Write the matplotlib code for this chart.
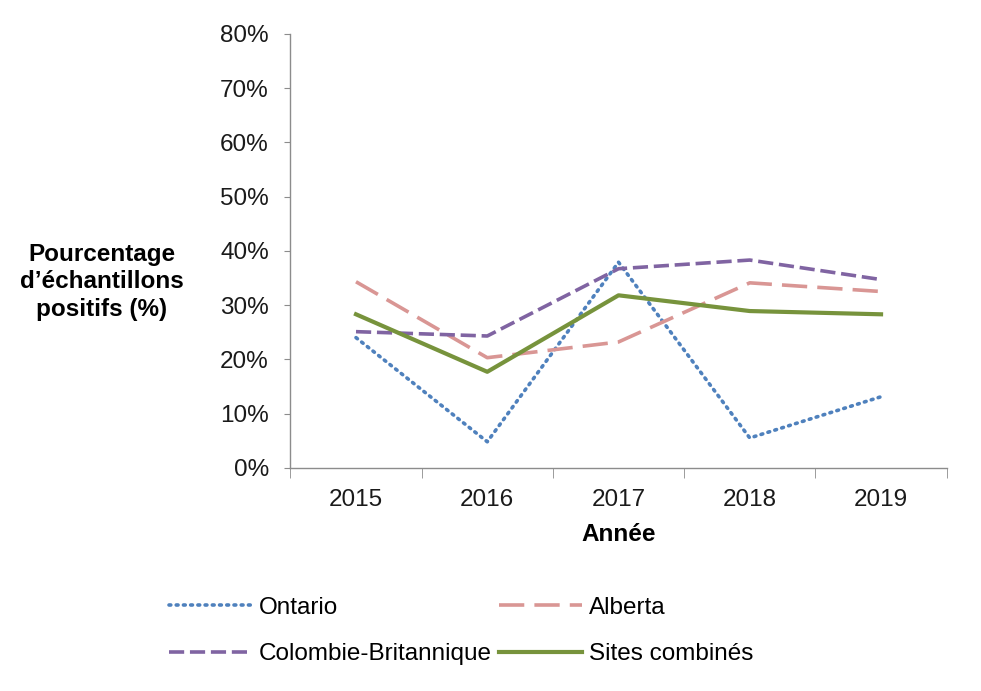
import matplotlib.pyplot as plt
from matplotlib.ticker import FuncFormatter

plt.rcParams['font.family'] = ['Liberation Sans', 'DejaVu Sans']

years = ['2015', '2016', '2017', '2018', '2019']
ontario = [24.0, 4.8, 37.9, 5.5, 13.1]
alberta = [34.3, 20.3, 23.2, 34.1, 32.5]
colombie = [25.1, 24.3, 36.7, 38.3, 34.7]
combines = [28.3, 17.7, 31.8, 28.9, 28.3]

fs = 17.5
fig = plt.figure(figsize=(9.81, 6.91), dpi=100)
ax = fig.add_axes([0.296, 0.323, 0.669, 0.628])

x = range(len(years))
l_on, = ax.plot(x, ontario, color='#4F81BD', linewidth=2.6, linestyle=(0, (0.5, 1.5)),
                dash_capstyle='round', label='Ontario')
l_al, = ax.plot(x, alberta, color='#D99694', linewidth=2.6, linestyle=(0, (7, 2.8)),
                label='Alberta')
l_cb, = ax.plot(x, colombie, color='#8064A2', linewidth=2.6, linestyle=(0, (4.2, 1.6)),
                label='Colombie-Britannique')
l_sc, = ax.plot(x, combines, color='#77933C', linewidth=3.0, label='Sites combinés')

ax.set_ylim(0, 80)
ax.set_yticks(range(0, 81, 10))
ax.yaxis.set_major_formatter(FuncFormatter(lambda v, p: '%d%%' % v))
ax.set_xlim(-0.5, 4.5)
ax.set_xticks(list(x))
ax.set_xticklabels(years)
ax.set_xticks([i - 0.5 for i in range(6)], minor=True)
ax.tick_params(axis='x', which='major', length=0, labelsize=fs, pad=15, labelcolor='#1a1a1a')
ax.tick_params(axis='x', which='minor', length=7, direction='out', color='#8c8c8c')
ax.tick_params(axis='y', length=4.5, direction='out', color='#8c8c8c', labelsize=fs,
               pad=11, labelcolor='#1a1a1a')

for s in ['top', 'right']:
    ax.spines[s].set_visible(False)
for s in ['left', 'bottom']:
    ax.spines[s].set_color('#8c8c8c')
    ax.spines[s].set_linewidth(1.0)

ax.set_xlabel('Année', fontsize=fs, fontweight='bold', labelpad=9)
fig.text(0.104, 0.592, 'Pourcentage\nd\u2019échantillons\npositifs (%)', fontsize=fs,
         fontweight='bold', ha='center', va='center', linespacing=1.25)

fig.legend([l_on, l_cb, l_al, l_sc],
           ['Ontario', 'Colombie-Britannique', 'Alberta', 'Sites combinés'],
           loc='center', bbox_to_anchor=(0.47, 0.087), ncol=2, frameon=False,
           fontsize=fs, handlelength=3.4, columnspacing=0.3, labelspacing=1.0,
           handletextpad=0.3)

fig.savefig('out.png', dpi=100)
